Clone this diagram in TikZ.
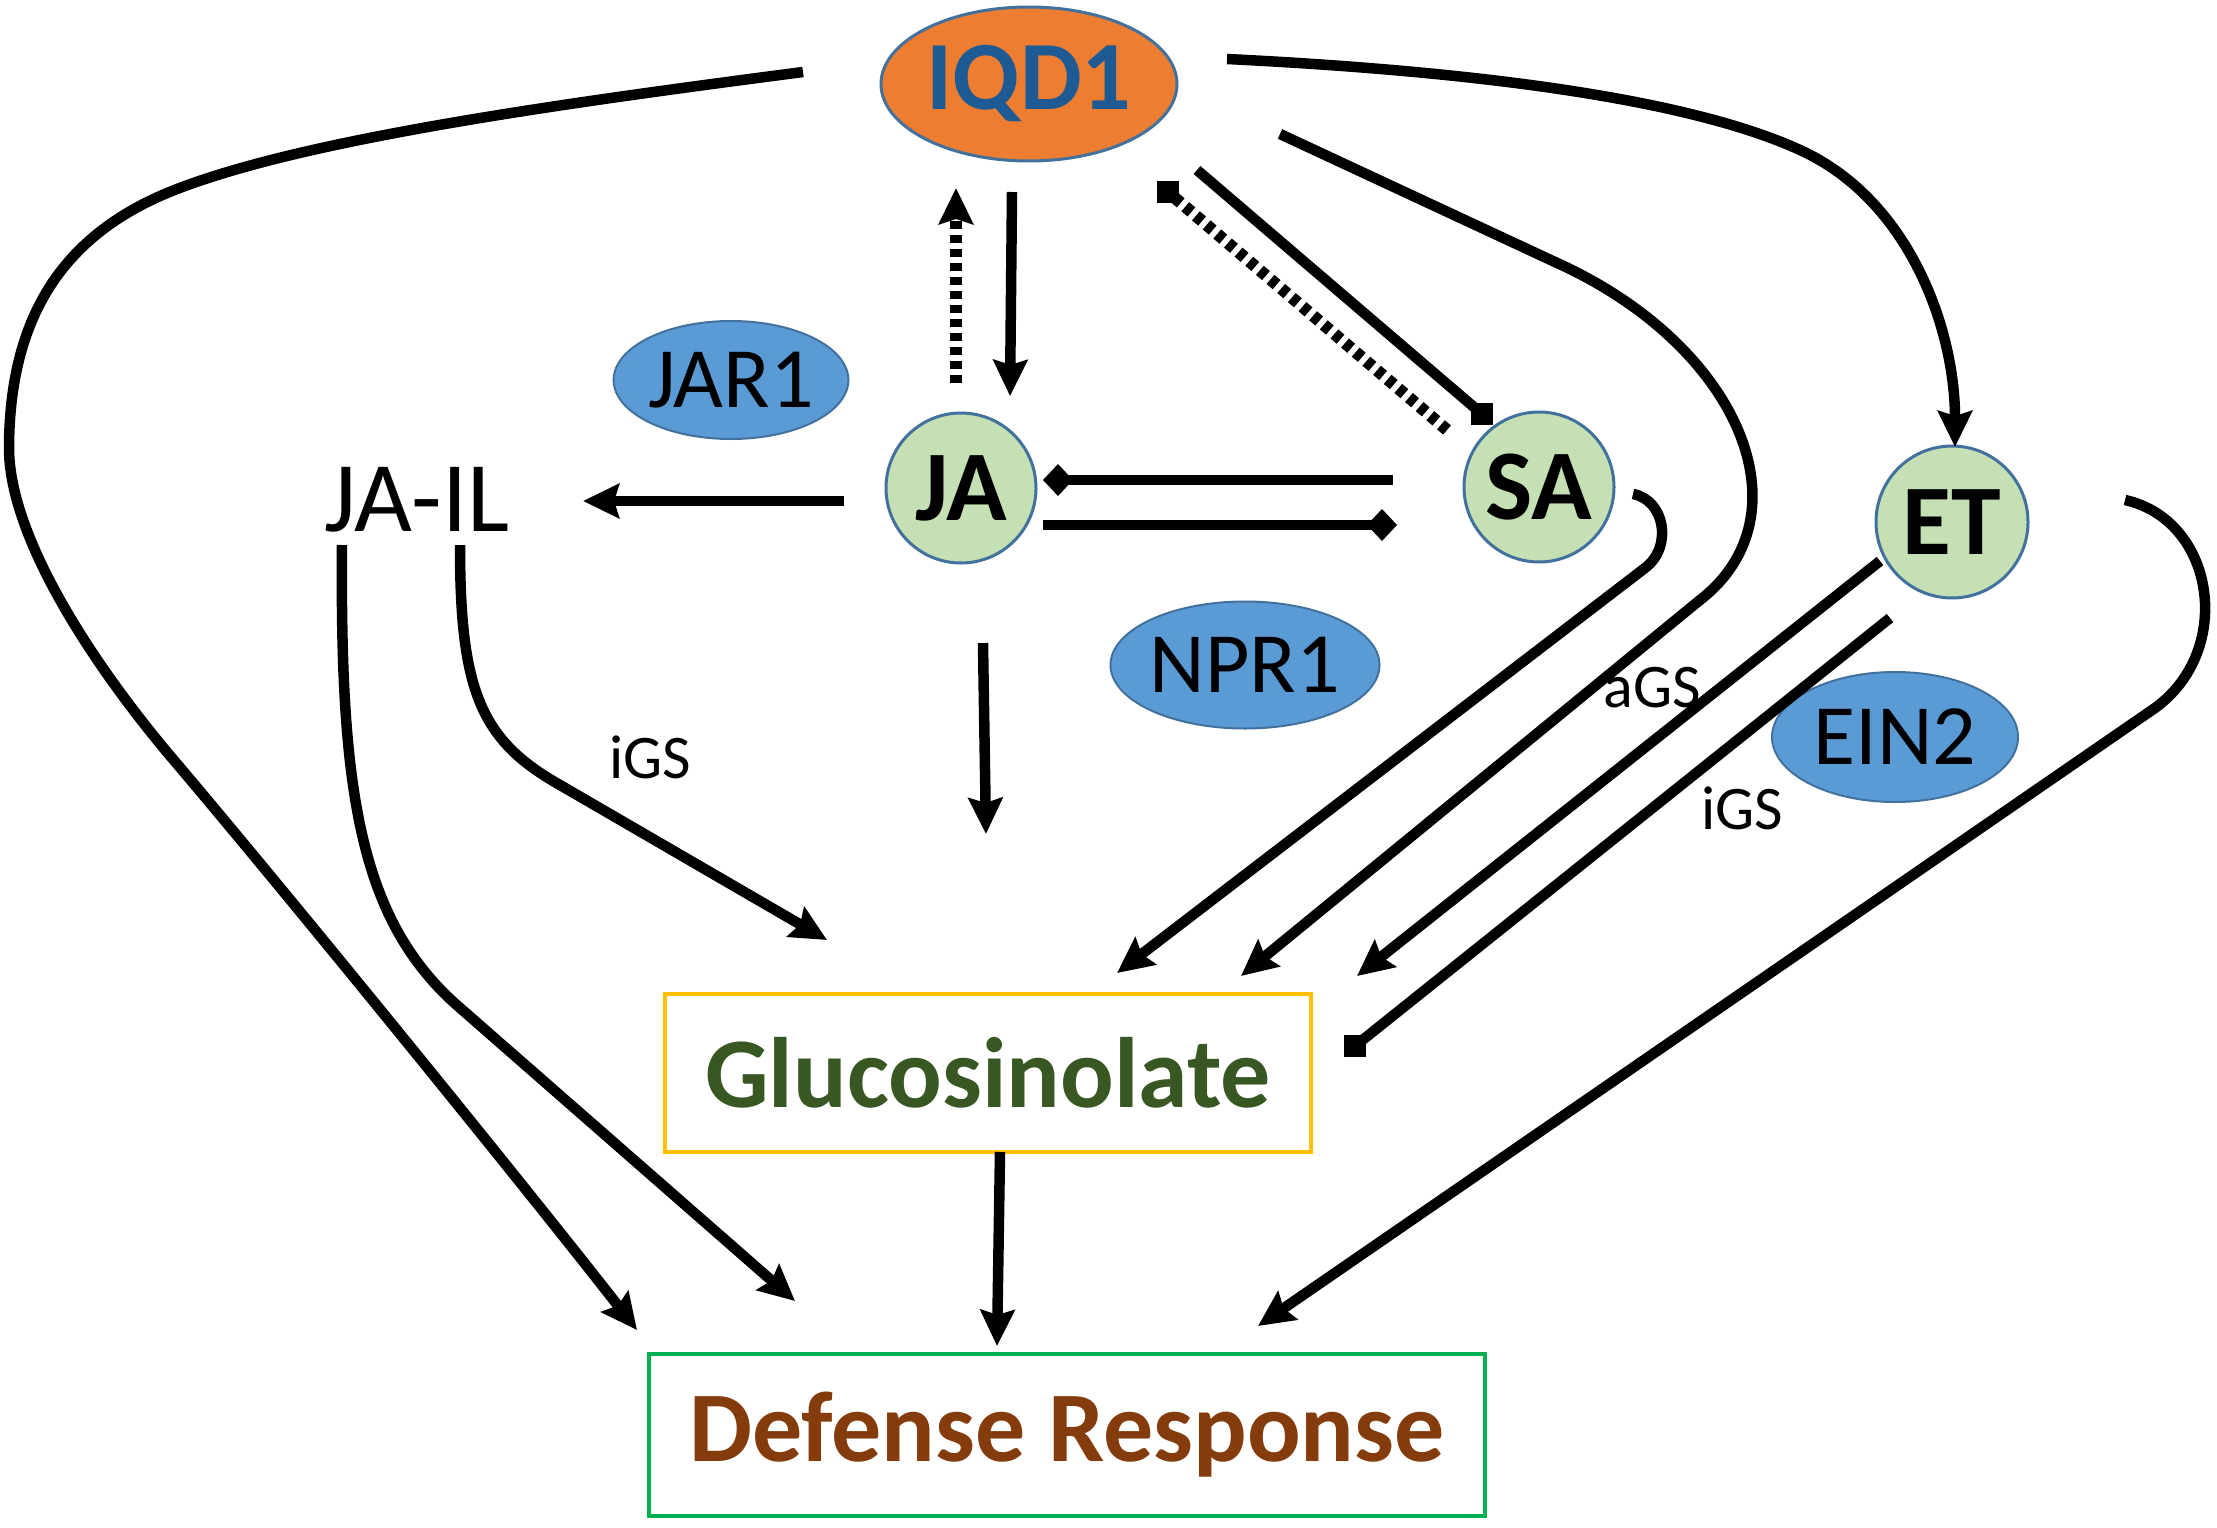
\documentclass[tikz,border=0pt]{standalone}
\usepackage{fontspec}
\setmainfont{Carlito}
\usetikzlibrary{arrows.meta,shapes.geometric}
\definecolor{iqdfill}{HTML}{ED7D31}
\definecolor{iqdtext}{HTML}{1E5A94}
\definecolor{edgeblue}{HTML}{41719C}
\definecolor{hormfill}{HTML}{C5E0B4}
\definecolor{protfill}{HTML}{5B9BD5}
\definecolor{glutext}{HTML}{385723}
\definecolor{glubox}{HTML}{FFC000}
\definecolor{deftext}{HTML}{843C0C}
\definecolor{defbox}{HTML}{00B050}
\begin{document}
\begin{tikzpicture}[x=1pt,y=-1pt,
  conn/.style={line width=10.5pt,black},
  arr/.style={conn,-{Stealth[length=36pt,width=34pt,inset=5pt]}},
  dia/.style={conn,-{Diamond[length=30pt,width=32pt]}},
  dotline/.style={line width=12pt,dash pattern=on 8pt off 6pt},
  dotarr/.style={dotline,-{Stealth[length=36pt,width=34pt,inset=5pt]}},
  sqrend/.style={rectangle,fill=black,inner sep=0pt,minimum size=22pt},
  hormone/.style={circle,fill=hormfill,draw=edgeblue,line width=3pt,inner sep=0pt,minimum size=150pt,
    font=\fontsize{100pt}{110pt}\selectfont\bfseries},
  protein/.style={ellipse,fill=protfill,draw=edgeblue,line width=2pt,inner sep=0pt,
    font=\fontsize{86pt}{96pt}\selectfont},
  lbl/.style={inner sep=0pt,font=\fontsize{62pt}{70pt}\selectfont},
  outbox/.style={rectangle,line width=4pt,inner sep=0pt,font=\fontsize{100pt}{110pt}\selectfont\bfseries}
]
\useasboundingbox (0,0) rectangle (2217,1528);
\fill[white] (0,0) rectangle (2217,1528);

% nodes
\node[ellipse,fill=iqdfill,draw=edgeblue,line width=3pt,inner sep=0pt,minimum width=296pt,minimum height=154pt,
  text=iqdtext,font=\fontsize{98pt}{108pt}\selectfont\bfseries] (IQD1) at (1029,84) {IQD1};
\node[hormone] (JA) at (961,488) {JA};
\node[hormone] (SA) at (1539,487) {SA};
\node[hormone,minimum size=152pt] (ET) at (1952,522) {ET};
\node[protein,minimum width=224pt,minimum height=118pt] (JAR1) at (731,380) {JAR1};
\node[protein,minimum width=248pt,minimum height=127pt] (NPR1) at (1245,665) {NPR1};
\node[protein,minimum width=246pt,minimum height=130pt] (EIN2) at (1895,737) {EIN2};
\node[inner sep=0pt,font=\fontsize{100pt}{110pt}\selectfont] (JAIL) at (417,500) {JA-IL};
\node[outbox,draw=glubox,text=glutext,minimum width=646pt,minimum height=158pt] (Gluc) at (988,1073) {Glucosinolate};
\node[outbox,draw=defbox,text=deftext,minimum width=836pt,minimum height=162pt] (Def) at (1067,1435) {Defense Response};

% labels
\node[lbl] (lblL) at (650,757) {iGS};
\node[lbl] (lblA) at (1652,688) {aGS};
\node[lbl] (lblR) at (1742,808) {iGS};

% connectors
\draw[arr] ([shift={(-226,-12)}]IQD1.center) .. controls (550,105) and (300,140) .. (172,191)
  .. controls (60,236) and (10,320) .. (9,446)
  .. controls (8,540) and (100,673) .. (172,758)
  .. controls (280,885) and (520,1180) .. ([shift={(-430,-105)}]Def.center);
\draw[arr] ([shift={(198,-25)}]IQD1.center) .. controls (1450,70) and (1680,95) .. (1800,150)
  .. controls (1910,200) and (1955,330) .. ([shift={(3,-75)}]ET.center);
\draw[arr] ([shift={(251,50)}]IQD1.center) -- (1555,262) .. controls (1740,345) and (1810,515) .. (1700,600)
  -- ([shift={(253,-97)}]Gluc.center);
\draw[arr] ([shift={(94,7)}]SA.center) .. controls (1665,500) and (1673,547) .. (1645,568)
  -- ([shift={(129,-100)}]Gluc.center);
\draw[arr] ([shift={(-72,39)}]ET.center) -- ([shift={(369,-97)}]Gluc.center);
\draw[conn] ([shift={(-62,96)}]ET.center) -- ([shift={(367,-27)}]Gluc.center) node[sqrend,pos=1] (sq1) {};
\draw[arr] ([shift={(173,-22)}]ET.center) .. controls (2215,520) and (2235,650) .. (2155,708)
  -- ([shift={(191,-109)}]Def.center);
\draw[arr] ([shift={(-75,45)}]JAIL.center) .. controls (340,790) and (359,920) .. (459,1007)
  -- ([shift={(-272,-134)}]Def.center);
\draw[arr] ([shift={(43,45)}]JAIL.center) .. controls (460,690) and (480,740) .. (560,785)
  -- ([shift={(-161,-133)}]Gluc.center);
\draw[arr] ([shift={(-117,13)}]JA.center) -- ([shift={(166,1)}]JAIL.center);
\draw[dotarr] ([shift={(-5,-105)}]JA.center) -- ([shift={(-73,104)}]IQD1.center);
\draw[arr] ([shift={(-17,108)}]IQD1.center) -- ([shift={(49,-92)}]JA.center);
\draw[conn] ([shift={(168,86)}]IQD1.center) -- ([shift={(-57,-73)}]SA.center) node[sqrend,pos=1] (sq2) {};
\draw[dotline] ([shift={(-92,-57)}]SA.center) -- ([shift={(139,108)}]IQD1.center) node[sqrend,pos=1] (sq3) {};
\draw[dia] ([shift={(-146,-7)}]SA.center) -- ([shift={(82,-8)}]JA.center);
\draw[dia] ([shift={(82,37)}]JA.center) -- ([shift={(-142,38)}]SA.center);
\draw[arr] ([shift={(22,155)}]JA.center) -- ([shift={(-2,-239)}]Gluc.center);
\draw[arr] ([shift={(12,79)}]Gluc.center) -- ([shift={(-70,-89)}]Def.center);
\end{tikzpicture}
\end{document}
